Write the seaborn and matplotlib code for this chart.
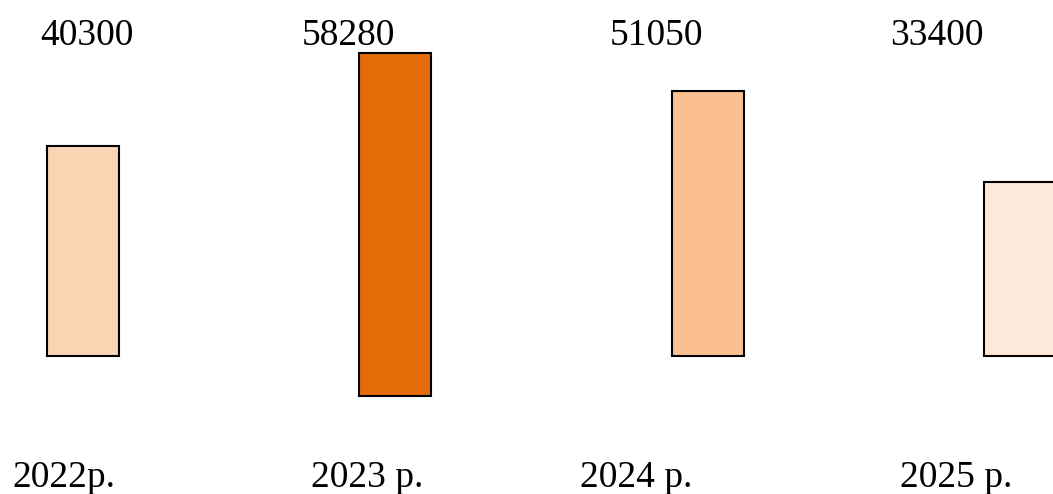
import matplotlib
matplotlib.use("Agg")
import matplotlib.pyplot as plt
import seaborn as sns

# --- dane ---
years = ["2022р.", "2023 р.", "2024 р.", "2025 р."]
values = [40300, 58280, 51050, 33400]
colors = ["#FBD4B4", "#E36C09", "#FAC08F", "#FDE9D9"]

# --- układ (piksele) ---
W, H = 1053, 494
BASE_PX = 356          # linia bazowa słupków od góry
SCALE = 0.0052         # piksele na jednostkę
X0_PX, STEP_PX = 83.2, 312.2
BAR_PX = 72
top_dx = [4, -47, -51, -83]
bot_dx = [-19, -28, -71, -64]
drop_px = [0, 40, 0, 0]   # słupek 2023 schodzi niżej

sns.set_style("white")
plt.rcParams['font.family'] = ['Liberation Serif', 'DejaVu Serif']

fig = plt.figure(figsize=(W / 100, H / 100), dpi=100)
ax = fig.add_axes([0, 0, 1, 1])

sns.barplot(x=years, y=values, hue=years, palette=colors, dodge=False,
            saturation=1, width=BAR_PX / STEP_PX, edgecolor="black",
            linewidth=1.5, legend=False, ax=ax)

ymin = -(H - BASE_PX) / SCALE
ax.set_ylim(ymin, ymin + H / SCALE)
xmin = -X0_PX / STEP_PX
ax.set_xlim(xmin, xmin + W / STEP_PX)

for p, d in zip(ax.patches, drop_px):
    if d:
        off = d / SCALE
        p.set_y(p.get_y() - off)
        p.set_height(p.get_height() + off)

for i, (lab, v) in enumerate(zip(years, values)):
    ax.annotate(str(v), xy=(i, 1 - 45 / H), xycoords=('data', 'axes fraction'),
                xytext=(top_dx[i], 0), textcoords='offset pixels',
                ha='center', va='baseline', fontsize=27, color='black')
    ax.annotate(lab, xy=(i, 1 - 487 / H), xycoords=('data', 'axes fraction'),
                xytext=(bot_dx[i], 0), textcoords='offset pixels',
                ha='center', va='baseline', fontsize=27, color='black')

ax.axis('off')
fig.savefig("out.png", dpi=100)
